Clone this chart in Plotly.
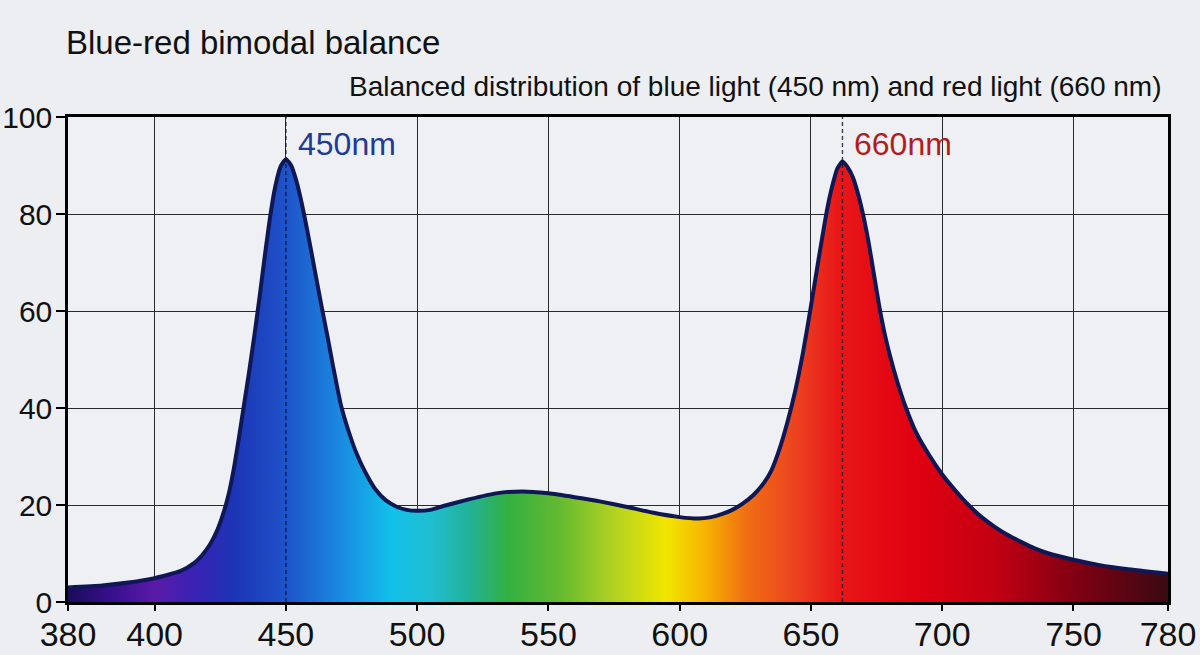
import plotly.graph_objects as go

# ---- data ----
wavelength = [367, 380, 390, 400, 410, 415, 418, 421, 424, 426, 428, 430, 432, 434, 436, 438, 440, 442, 444,
              446, 448, 450, 452, 454, 456, 458, 460, 462, 464, 466, 468, 471, 474, 477, 480, 484, 488, 492,
              496, 500, 505, 510, 520, 530, 540, 550, 560, 570, 580, 590, 600, 607, 612, 616, 620, 624, 628,
              632, 635, 638, 641, 644, 647, 650, 653, 656, 658, 660, 662, 664, 666, 668, 670, 672, 674, 676,
              678, 680, 683, 686, 690, 695, 700, 705, 710, 715, 720, 725, 730, 735, 740, 750, 760, 770, 786]
intensity = [3.0, 3.4, 4.0, 4.9, 6.4, 8.0, 9.6, 11.8, 15.0, 18.0, 21.8, 27.0, 33.5, 40.5, 47.5, 55.0, 63.0,
             71.5, 79.5, 85.8, 89.8, 91.3, 90.0, 86.8, 82.3, 77.0, 71.3, 65.5, 59.8, 54.3, 48.5, 40.5, 35.0,
             30.5, 27.0, 23.3, 21.0, 19.7, 19.0, 18.8, 19.0, 19.8, 21.2, 22.4, 22.8, 22.4, 21.6, 20.7, 19.6,
             18.4, 17.5, 17.2, 17.5, 18.1, 19.0, 20.3, 22.0, 24.5, 27.2, 31.5, 37.0, 43.5, 51.5, 61.0, 71.0,
             80.5, 85.5, 89.3, 90.8, 89.6, 87.5, 84.0, 79.5, 74.0, 67.5, 61.0, 55.5, 51.0, 45.2, 40.3, 35.0,
             30.3, 26.3, 23.0, 20.0, 17.5, 15.5, 13.8, 12.4, 11.1, 10.1, 8.7, 7.6, 6.8, 5.8]

x_range = [367, 786]
x_tickvals = [367, 400, 450, 500, 550, 600, 650, 700, 750, 786]
x_ticktext = ["380", "400", "450", "500", "550", "600", "650", "700", "750", "780"]
y_tickvals = [0, 20, 40, 60, 80, 100]

peak_wavelengths = [450, 662]
peak_labels = ["450nm", "660nm"]
peak_label_colors = ["#213a98", "#b21c1c"]

spectrum_stops_nm = [367, 385, 400, 415, 430, 450, 470, 490, 505, 520, 535, 555, 575, 595, 610, 625,
                     645, 660, 690, 720, 750, 786]
spectrum_colors = ["#1c0b5c", "#3a1090", "#5a1aa8", "#3a22b4", "#1c34b6", "#1f52c8", "#1a88e0", "#12c0ea",
                   "#20bed2", "#22b296", "#34b040", "#66ba30", "#b2d222", "#f2e600", "#f6b200", "#f07012",
                   "#ec4020", "#e81818", "#e00010", "#c20012", "#820012", "#3a0a12"]

title_text = "Blue-red bimodal balance"
subtitle_text = "Balanced distribution of blue light (450 nm) and red light (660 nm)"

# ---- figure ----
span = x_range[1] - x_range[0]
colorscale = [[(w - x_range[0]) / span, c] for w, c in zip(spectrum_stops_nm, spectrum_colors)]

fig = go.Figure()
fig.add_trace(go.Scatter(
    x=wavelength, y=intensity, mode="lines",
    line=dict(color="#0f1755", width=4, shape="spline", smoothing=0.5),
    fill="tozeroy",
    fillgradient=dict(type="horizontal", colorscale=colorscale, start=x_range[0], stop=x_range[1]),
    hoverinfo="skip", showlegend=False,
))

for wl in peak_wavelengths:
    fig.add_trace(go.Scatter(
        x=[wl, wl], y=[0, 100], mode="lines",
        line=dict(color="rgba(15,15,40,0.8)", width=1.4, dash="4px,3px"),
        hoverinfo="skip", showlegend=False,
    ))

for wl, txt, col in zip(peak_wavelengths, peak_labels, peak_label_colors):
    fig.add_annotation(x=wl, y=94.4, text=txt, showarrow=False, xanchor="left", yanchor="middle",
                       xshift=10, font=dict(family="Liberation Sans, Arial, sans-serif", size=32, color=col))

fig.add_annotation(xref="paper", yref="paper", x=-0.004, y=1.153, text=title_text, showarrow=False,
                   xanchor="left", yanchor="middle",
                   font=dict(family="Liberation Sans, Arial, sans-serif", size=33, color="#111111"))
fig.add_annotation(xref="paper", yref="paper", x=0.995, y=1.062, text=subtitle_text, showarrow=False,
                   xanchor="right", yanchor="middle",
                   font=dict(family="Liberation Sans, Arial, sans-serif", size=28, color="#111111"))

fig.update_layout(
    width=1200, height=655,
    margin=dict(l=68, r=32, t=117, b=53),
    paper_bgcolor="#eceef1", plot_bgcolor="#eef0f3",
)
fig.update_xaxes(
    range=x_range, tickvals=x_tickvals, ticktext=x_ticktext, automargin=False,
    showgrid=True, gridcolor="#2a2a2a", gridwidth=1.3,
    showline=True, linecolor="#000000", linewidth=2.5, mirror=True,
    ticks="outside", ticklen=6, tickwidth=2, tickcolor="#000000",
    ticklabelstandoff=-6,
    tickfont=dict(family="Liberation Sans, Arial, sans-serif", size=34, color="#111111"),
    zeroline=False,
)
fig.update_yaxes(
    range=[0, 100], tickvals=y_tickvals, automargin=False,
    showgrid=True, gridcolor="#2a2a2a", gridwidth=1.3,
    showline=True, linecolor="#000000", linewidth=2.5, mirror=True,
    ticks="outside", ticklen=9, tickwidth=2, tickcolor="#000000",
    ticklabelstandoff=-2,
    tickfont=dict(family="Liberation Sans, Arial, sans-serif", size=30, color="#111111"),
    zeroline=False,
)

fig.write_html("out.html")
